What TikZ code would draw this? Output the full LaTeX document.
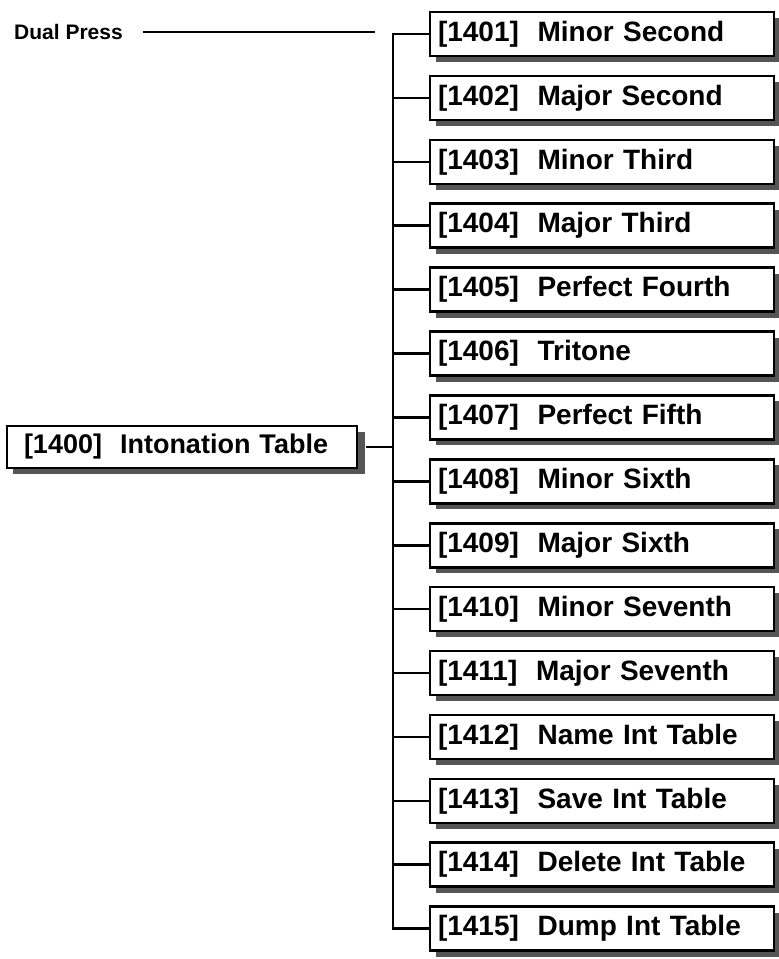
\documentclass[tikz,border=0pt]{standalone}
\usepackage{fontspec}
\setmainfont{Liberation Sans}
\usetikzlibrary{positioning,shadows}
\definecolor{ink}{HTML}{000000}
\definecolor{shade}{HTML}{555555}

\begin{document}
\begin{tikzpicture}[x=1pt,y=-1pt,node distance=17.3pt,
  wire/.style={ink,line width=2.6pt},
  menu/.style={draw=ink,line width=2.6pt,fill=white,minimum height=44pt,text width=328pt,inner xsep=8pt,align=left,
    font=\fontsize{28}{32}\selectfont\bfseries,drop shadow={shadow xshift=6pt,shadow yshift=-6pt,fill=shade,opacity=1}}]
\useasboundingbox (0,0) rectangle (779,959);
% the submenu column
\node[menu] (c1) at (602,34) {[1401]\ \ Minor Second};
\node[menu,below=of c1] (c2) {[1402]\ \ Major Second};
\node[menu,below=of c2] (c3) {[1403]\ \ Minor Third};
\node[menu,below=of c3] (c4) {[1404]\ \ Major Third};
\node[menu,below=of c4] (c5) {[1405]\ \ Perfect Fourth};
\node[menu,below=of c5] (c6) {[1406]\ \ Tritone};
\node[menu,below=of c6] (c7) {[1407]\ \ Perfect Fifth};
\node[menu,below=of c7] (c8) {[1408]\ \ Minor Sixth};
\node[menu,below=of c8] (c9) {[1409]\ \ Major Sixth};
\node[menu,below=of c9] (c10) {[1410]\ \ Minor Seventh};
\node[menu,below=of c10] (c11) {[1411]\ \ Major Seventh};
\node[menu,below=of c11] (c12) {[1412]\ \ Name Int Table};
\node[menu,below=of c12] (c13) {[1413]\ \ Save Int Table};
\node[menu,below=of c13] (c14) {[1414]\ \ Delete Int Table};
\node[menu,below=of c14] (c15) {[1415]\ \ Dump Int Table};
% the root entry
\node[menu,minimum height=42pt,text width=316pt,inner xsep=17pt,font=\fontsize{27}{30}\selectfont\bfseries,
  drop shadow={shadow xshift=8pt,shadow yshift=-6pt,fill=shade,opacity=1}] (root) at (182,447) {[1400]\ \ Intonation Table};
\coordinate (tr) at (393,0);
\draw[wire] (c1.west) -| (c15.west -| tr) -- (c15.west);
\draw[wire] (c2.west)--(c2.west -| tr); \draw[wire] (c3.west)--(c3.west -| tr); \draw[wire] (c4.west)--(c4.west -| tr);
\draw[wire] (c5.west)--(c5.west -| tr); \draw[wire] (c6.west)--(c6.west -| tr); \draw[wire] (c7.west)--(c7.west -| tr);
\draw[wire] (c8.west)--(c8.west -| tr); \draw[wire] (c9.west)--(c9.west -| tr); \draw[wire] (c10.west)--(c10.west -| tr);
\draw[wire] (c11.west)--(c11.west -| tr); \draw[wire] (c12.west)--(c12.west -| tr); \draw[wire] (c13.west)--(c13.west -| tr);
\draw[wire] (c14.west)--(c14.west -| tr);
\draw[wire] ([xshift=8pt]root.east) -- (root.east -| tr);
% dual press marker
\node[anchor=west,inner sep=0pt,font=\fontsize{21}{24}\selectfont\bfseries] (dp) at (14,32) {Dual Press};
\coordinate (dpend) at (375,32);
\draw[ink,line width=1.4pt,shorten <=20pt] (dp.east) -- (dpend);
\end{tikzpicture}
\end{document}
